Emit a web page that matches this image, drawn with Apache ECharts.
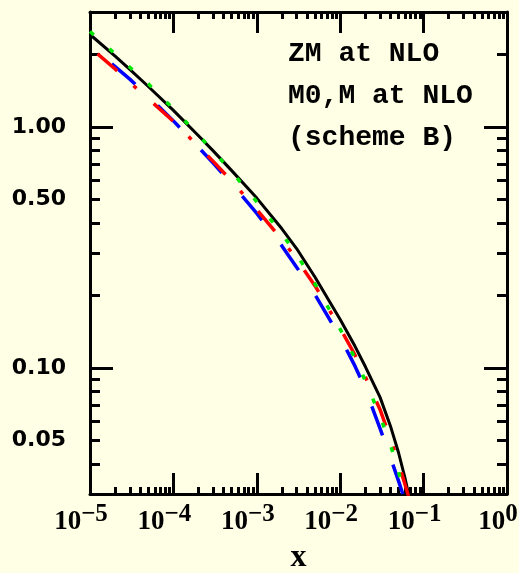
<!DOCTYPE html>
<html>
<head>
<meta charset="utf-8">
<script src="https://cdn.jsdelivr.net/npm/echarts@6/dist/echarts.min.js"></script>
<style>
  html, body { margin: 0; padding: 0; background: #ffffe6; }
  #chart { width: 519px; height: 573px; }
</style>
</head>
<body>
<div id="chart"></div>
<script>
// x grid shared by all curves
const xs = [1e-5, 2e-5, 3e-5, 5e-5, 1e-4, 2e-4, 3e-4, 5e-4, 1e-3, 2e-3, 3e-3, 5e-3,
  1e-2, 1.5e-2, 2e-2, 3e-2, 4e-2, 5e-2, 6e-2, 7e-2]

// curves
const zmSolid = [2.42, 1.97, 1.735, 1.472, 1.172, 0.92, 0.796, 0.659, 0.507, 0.378, 0.313, 0.238,
  0.159, 0.1233, 0.1014, 0.0757, 0.0575, 0.0446, 0.0348, 0.0274]
const zmDotted = [2.49, 2.01, 1.77, 1.51, 1.19, 0.925, 0.795, 0.652, 0.489, 0.36, 0.296, 0.223,
  0.145, 0.11, 0.0885, 0.0632, 0.0481, 0.0372, 0.0291, 0.0231]
const mDashDot = [2.14, 1.74, 1.53, 1.31, 1.055, 0.83, 0.72, 0.596, 0.454, 0.341, 0.283, 0.219,
  0.146, 0.1135, 0.092, 0.0673, 0.051, 0.0404, 0.0328, 0.0274]
const mDashed = [2.16, 1.78, 1.58, 1.34, 1.06, 0.824, 0.708, 0.581, 0.438, 0.321, 0.262, 0.201,
  0.134, 0.102, 0.082, 0.0562, 0.0426, 0.034, 0.0281, 0.024]

// axis ranges and ticks
const xRange = [1e-5, 1]
const yRange = [0.03, 3]
const xDecades = [-5, -4, -3, -2, -1, 0]
const xMinorSteps = [2, 3, 4, 5, 6, 7, 8, 9]
const yMajorTicks = [0.1, 1]
const yMinorTicks = [0.03, 0.04, 0.05, 0.06, 0.07, 0.08, 0.09, 0.2, 0.3, 0.4, 0.5, 0.6, 0.7, 0.8, 0.9, 2, 3]
const yLabels = [0.05, 0.1, 0.5, 1]

const textLines = ['ZM at NLO', 'M0,M at NLO', '(scheme B)']

const lg = Math.log10
const xMinorLog = []
xDecades.slice(0, -1).forEach(d => xMinorSteps.forEach(k => xMinorLog.push(d + lg(k))))

const chart = echarts.init(document.getElementById('chart'))

const pairs = ys => xs.map((x, i) => [x, ys[i]])

const frame = { show: true, onZero: false, lineStyle: { color: '#000', width: 3 } }
const noLine = { show: false, onZero: false }
const tickStyle = { color: '#000', width: 3 }

const xTickAxis = (position, values, len, line, label) => ({
  type: 'value', min: xDecades[0], max: xDecades[xDecades.length - 1], position,
  axisLine: line ? frame : noLine,
  axisTick: { show: true, inside: true, length: len, customValues: values, lineStyle: tickStyle },
  axisLabel: label || { show: false },
  splitLine: { show: false }
})

const yTickAxis = (position, values, len, line, label) => ({
  type: 'value', min: lg(yRange[0]), max: lg(yRange[1]), position,
  axisLine: line ? frame : noLine,
  axisTick: { show: true, inside: true, length: len, customValues: values, lineStyle: tickStyle },
  axisLabel: label || { show: false },
  splitLine: { show: false }
})

const xLabel = {
  show: true,
  customValues: xDecades,
  margin: 8,
  formatter: v => '{b|10}{s|' + (v < 0 ? '\u2212' + (-v) : v) + '}',
  rich: {
    b: { fontFamily: 'Liberation Serif', fontWeight: 'bold', fontSize: 27, color: '#000', verticalAlign: 'bottom', lineHeight: 34 },
    s: { fontFamily: 'Liberation Serif', fontWeight: 'bold', fontSize: 25, color: '#000', verticalAlign: 'top', lineHeight: 34, padding: [0, 18, 10, 0] }
  }
}

const yLabel = {
  show: true,
  customValues: yLabels.map(lg),
  margin: 24,
  formatter: v => Math.pow(10, v).toFixed(2),
  fontFamily: 'DejaVu Sans', fontWeight: 'bold', fontSize: 22, color: '#000'
}

const curve = (ys, lineStyle) => ({
  type: 'line', xAxisIndex: 0, yAxisIndex: 0, data: pairs(ys),
  symbol: 'none', smooth: false, lineStyle
})

chart.setOption({
  backgroundColor: '#ffffe6',
  animation: false,
  grid: { left: 90, right: 12, top: 12, bottom: 79, outerBoundsMode: 'none' },
  xAxis: [
    { type: 'log', min: xRange[0], max: xRange[1], show: false },
    Object.assign(xTickAxis('bottom', xDecades, 21, true, xLabel), {
      name: 'x', nameLocation: 'middle', nameGap: 43,
      nameTextStyle: { fontFamily: 'Liberation Serif', fontWeight: 'bold', fontSize: 32, color: '#000' }
    }),
    xTickAxis('bottom', xMinorLog, 7, false),
    xTickAxis('top', xDecades, 21, true),
    xTickAxis('top', xMinorLog, 7, false)
  ],
  yAxis: [
    { type: 'log', min: yRange[0], max: yRange[1], show: false },
    yTickAxis('left', yMajorTicks.map(lg), 23, true, yLabel),
    yTickAxis('left', yMinorTicks.map(lg), 10, false),
    yTickAxis('right', yMajorTicks.map(lg), 23, true),
    yTickAxis('right', yMinorTicks.map(lg), 10, false)
  ],
  series: [
    curve(zmSolid, { color: '#000', width: 3, join: 'round' }),
    curve(mDashed, { color: '#0000ff', width: 3.5, type: [31, 31], dashOffset: 34, cap: 'butt' }),
    curve(mDashDot, { color: '#ff0000', width: 3.5, type: [26, 22, 4, 23], dashOffset: 65, cap: 'butt' }),
    curve(zmDotted, { color: '#00e600', width: 3.5, type: [5, 21], cap: 'butt' })
  ],
  graphic: textLines.map((t, i) => ({
    type: 'text', x: 288, y: 54 + i * 42,
    style: { text: t, font: 'bold 28px "Liberation Mono"', fill: '#000', verticalAlign: 'middle', align: 'left' }
  }))
})
</script>
</body>
</html>
